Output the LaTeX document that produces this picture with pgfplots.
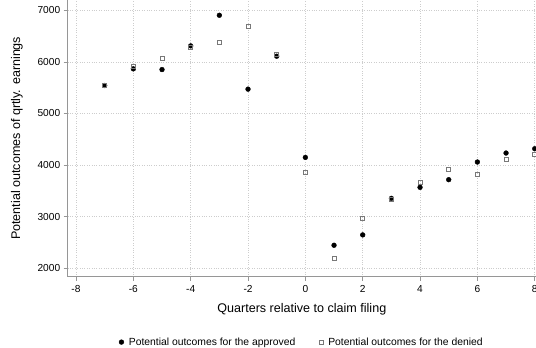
\documentclass[border=0pt]{standalone}
\usepackage{pgfplots}
\pgfplotsset{compat=1.18}
\usepackage{fontspec}
\setmainfont{Liberation Sans}
\definecolor{axgray}{RGB}{150,150,150}
\definecolor{gridgray}{RGB}{205,205,205}
\definecolor{sqgray}{RGB}{120,120,120}
\begin{document}
\begin{tikzpicture}
\begin{axis}[
  name=ax,
  scale only axis,
  width=468.3bp, height=276.7bp,
  xmin=-8.29, xmax=8.045,
  ymin=1838, ymax=7199,
  axis x line=bottom, axis y line=left,
  axis line style={axgray, line width=0.7pt, -},
  xtick={-8,-6,...,8}, ytick={2000,3000,...,7000},
  tick style={axgray, line width=0.7pt},
  tick align=outside, major tick length=4bp,
  grid=major,
  major grid style={gridgray, dotted, line width=0.5pt},
  /pgf/number format/assume math mode=true,
  /pgf/number format/1000 sep={},
  tick label style={font=\fontsize{10.2}{12}\selectfont},
  xticklabel style={yshift=-1bp},
  xlabel={Quarters relative to claim filing},
  ylabel={Potential outcomes of qrtly. earnings},
  label style={font=\fontsize{12.6}{14}\selectfont},
  xlabel style={yshift=-4bp},
  ylabel style={yshift=8bp},
  legend columns=2,
  legend style={draw=none, at={(0.5,-0.205)}, anchor=north, font=\fontsize{10.4}{12}\selectfont,
    /tikz/every even column/.append style={column sep=22bp},
    /tikz/every odd column/.append style={column sep=3bp}},
  legend cell align=left,
  clip=true,
]
\addplot[only marks, mark=*, mark size=2.4bp, black] coordinates {
(-7,5542) (-6,5865) (-5,5851) (-4,6310) (-3,6903) (-2,5472) (-1,6110)
(0,4149) (1,2447) (2,2648) (3,3356) (4,3569) (5,3718) (6,4060) (7,4234) (8,4317)
};
\addlegendentry{Potential outcomes for the approved}
\addplot[only marks, mark=square, mark size=2bp, sqgray, mark options={line width=0.8pt}] coordinates {
(-7,5545) (-6,5909) (-5,6077) (-4,6277) (-3,6387) (-2,6690) (-1,6149)
(0,3867) (1,2190) (2,2977) (3,3344) (4,3673) (5,3911) (6,3828) (7,4104) (8,4201)
};
\addlegendentry{Potential outcomes for the denied}
\end{axis}
\pgfresetboundingbox
\path (ax.south west) ++(-67.7bp,-71.3bp) rectangle (ax.north east);
\end{tikzpicture}
\end{document}
